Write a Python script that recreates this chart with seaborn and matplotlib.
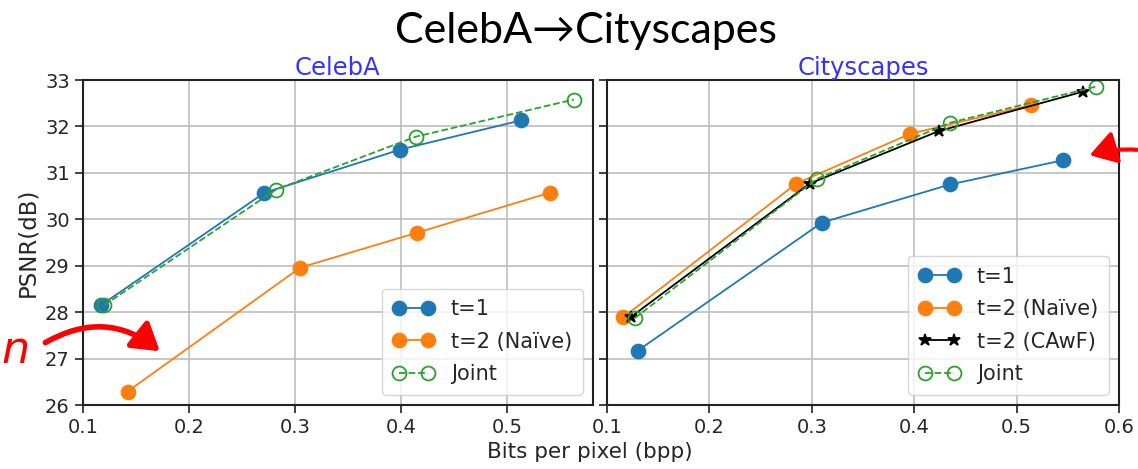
import pandas as pd
import numpy as np
import seaborn as sns
import matplotlib.pyplot as plt
from matplotlib.patches import FancyArrowPatch

# CelebA panel
celeba_t1_x = [0.117, 0.271, 0.399, 0.513]
celeba_t1_y = [28.15, 30.57, 31.50, 32.13]
celeba_naive_x = [0.142, 0.305, 0.415, 0.540]
celeba_naive_y = [26.29, 28.96, 29.71, 30.57]
celeba_joint_x = [0.120, 0.282, 0.414, 0.563]
celeba_joint_y = [28.15, 30.64, 31.78, 32.58]

# Cityscapes panel
city_t1_x = [0.130, 0.310, 0.435, 0.545]
city_t1_y = [27.17, 29.93, 30.75, 31.27]
city_naive_x = [0.116, 0.285, 0.396, 0.514]
city_naive_y = [27.89, 30.77, 31.84, 32.46]
city_cawf_x = [0.123, 0.298, 0.424, 0.565]
city_cawf_y = [27.89, 30.77, 31.90, 32.75]
city_joint_x = [0.127, 0.305, 0.435, 0.578]
city_joint_y = [27.87, 30.87, 32.08, 32.86]

left_x_ticks = [0.1, 0.2, 0.3, 0.4, 0.5]
right_x_ticks = [0.1, 0.2, 0.3, 0.4, 0.5, 0.6]
y_ticks = [26, 27, 28, 29, 30, 31, 32, 33]

sns.set_style("ticks", {"axes.grid": True, "grid.color": "#bdbdbd", "axes.edgecolor": "#222222"})
plt.rcParams['font.family'] = ['DejaVu Sans']
plt.rcParams['legend.numpoints'] = 2
plt.rcParams['grid.linewidth'] = 1.2

BLUE, ORANGE, GREEN = "#1f77b4", "#ff7f0e", "#2ca02c"

fig = plt.figure(figsize=(11.38, 4.69), dpi=100)
ax1 = fig.add_axes([83 / 1138, 1 - 405 / 469, 510 / 1138, 325 / 469])
ax2 = fig.add_axes([607 / 1138, 1 - 405 / 469, 512 / 1138, 325 / 469])


def draw(ax, x, y, label, color, marker="o", ls="-", filled=True, ms=10):
    df = pd.DataFrame({"x": x, "y": y})
    sns.lineplot(data=df, x="x", y="y", ax=ax, label=label, color=color,
                 marker=marker, markersize=ms, linestyle=ls, linewidth=1.3,
                 markeredgecolor=color, markeredgewidth=1.3,
                 markerfacecolor=color if filled else "none")


draw(ax1, celeba_t1_x, celeba_t1_y, "t=1", BLUE)
draw(ax1, celeba_naive_x, celeba_naive_y, "t=2 (Naïve)", ORANGE)
draw(ax1, celeba_joint_x, celeba_joint_y, "Joint", GREEN, ls="--", filled=False)

draw(ax2, city_t1_x, city_t1_y, "t=1", BLUE)
draw(ax2, city_naive_x, city_naive_y, "t=2 (Naïve)", ORANGE)
draw(ax2, city_cawf_x, city_cawf_y, "t=2 (CAwF)", "black", marker="*", ms=9)
draw(ax2, city_joint_x, city_joint_y, "Joint", GREEN, ls="--", filled=False)

for ax, xmax, ticks, title in [(ax1, 0.581, left_x_ticks, "CelebA"),
                               (ax2, 0.6, right_x_ticks, "Cityscapes")]:
    ax.set_xlim(0.1, xmax)
    ax.set_ylim(26, 33)
    ax.set_xticks(ticks)
    ax.set_yticks(y_ticks)
    ax.set_xticklabels([str(t) for t in ticks])
    ax.tick_params(labelsize=14, length=6, width=1.2, color="#222222")
    ax.set_title(title, color="#3333ff", fontsize=17.5, pad=2)
    ax.set_xlabel("")
    ax.set_ylabel("")
    for s in ax.spines.values():
        s.set_linewidth(1.5)
    ax.legend(loc="lower right", fontsize=15, handlelength=2.0, frameon=True,
              borderpad=0.5, labelspacing=0.6)

ax1.set_ylabel("PSNR(dB)", fontsize=16.5)
ax2.tick_params(labelleft=False)

fig.text(0.518, 1 - 452 / 469, "Bits per pixel (bpp)", ha="center", va="center", fontsize=15.5)
fig.text(0.515, 1 - 31 / 469, "CelebA\u2192Cityscapes", ha="center", va="center", fontsize=31,
         color="black", family=["Lato", "DejaVu Sans"])

# red hand-drawn marks
fig.text(0.001, 1 - 350 / 469, "n", color="red", fontsize=32, style="italic", ha="left", va="center")
fig.patches.append(FancyArrowPatch(
    (43 / 1138, 1 - 344 / 469), (162 / 1138, 1 - 353 / 469), transform=fig.transFigure,
    connectionstyle="arc3,rad=-0.35", arrowstyle="-|>,head_length=8,head_width=5",
    color="red", linewidth=4, mutation_scale=2))
fig.patches.append(FancyArrowPatch(
    (1140 / 1138, 1 - 150 / 469), (1087 / 1138, 1 - 156 / 469), transform=fig.transFigure,
    connectionstyle="arc3,rad=0.1", arrowstyle="-|>,head_length=8,head_width=5",
    color="red", linewidth=3, mutation_scale=2))

fig.savefig("out.png", dpi=100)
